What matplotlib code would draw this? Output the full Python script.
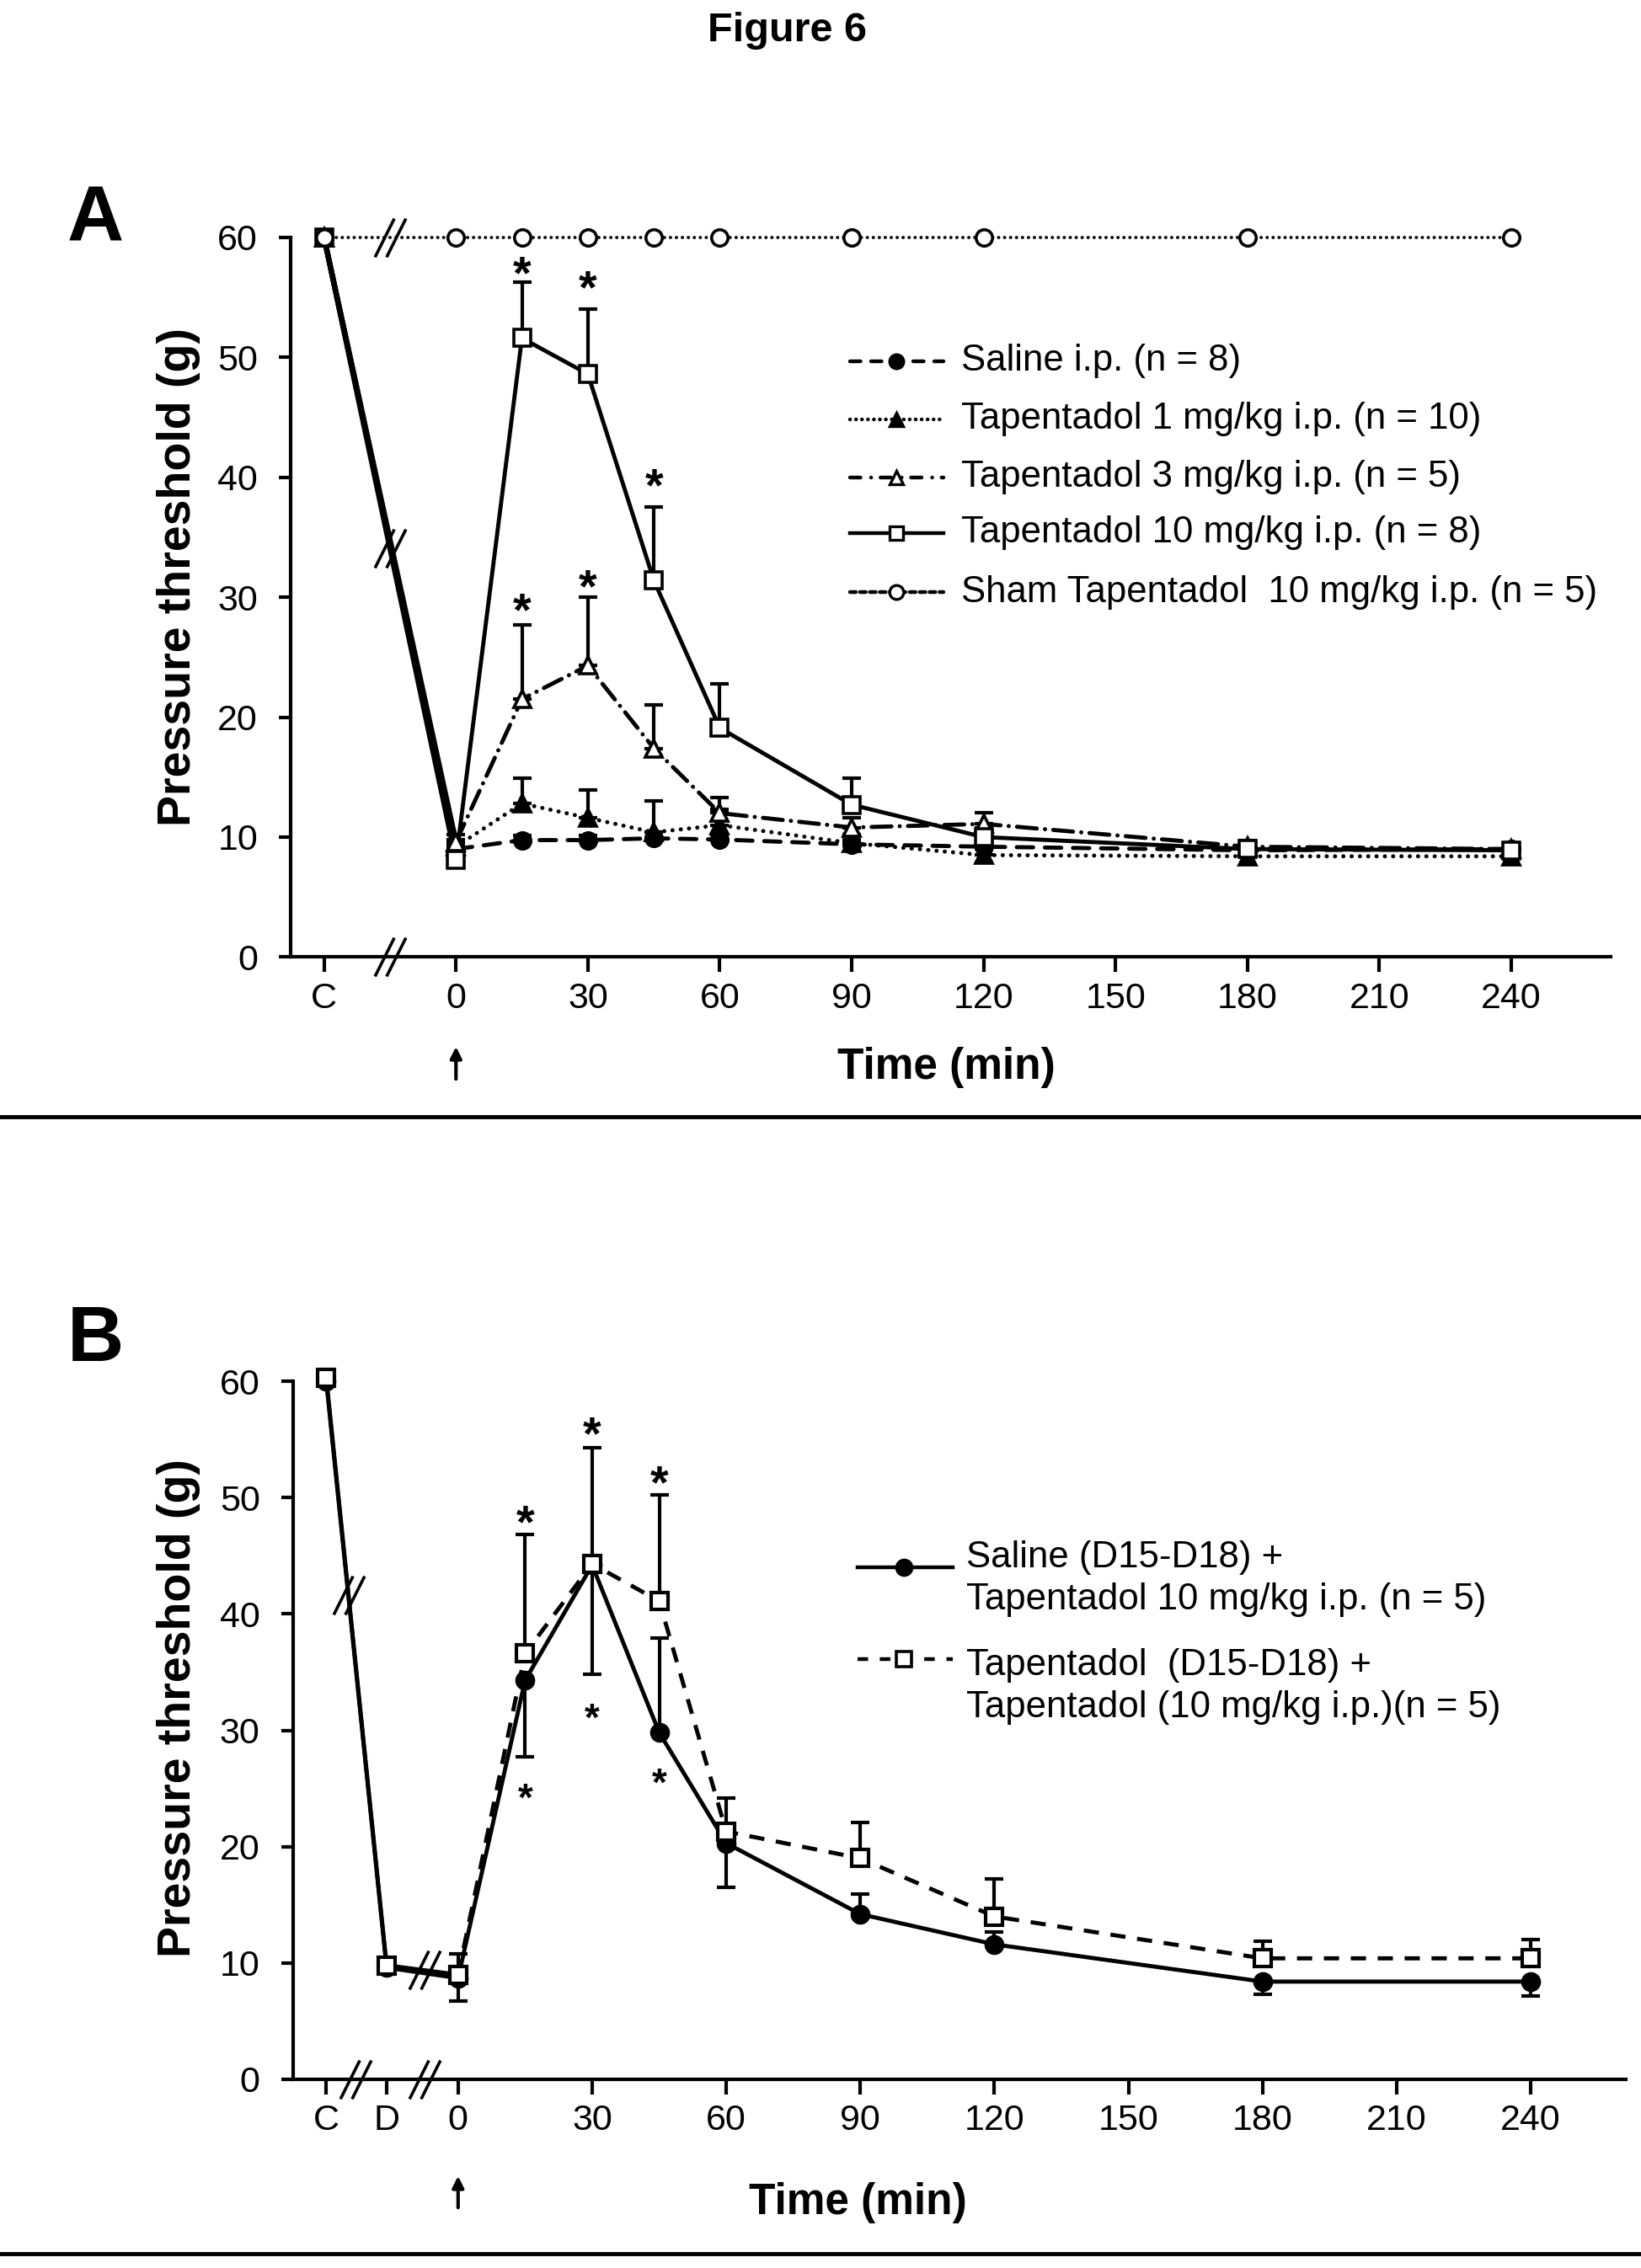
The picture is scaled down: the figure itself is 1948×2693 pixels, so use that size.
import matplotlib
matplotlib.use('Agg')
import matplotlib.pyplot as plt
from matplotlib.path import Path
from matplotlib.lines import Line2D
import numpy as np

plt.rcParams['font.family'] = ['Liberation Sans', 'DejaVu Sans']
plt.rcParams['lines.scale_dashes'] = False

W, H, DPI = 1949, 2693, 100

# ---------------- data : panel A ----------------
a_ticks = [-30, 0, 30, 60, 90, 120, 150, 180, 210, 240]
a_ticklabels = ['C', '0', '30', '60', '90', '120', '150', '180', '210', '240']
a_time = [-30, 0, 15, 30, 45, 60, 90, 120, 180, 240]          # -30 = "C"
a_saline = [60, 9.0, 9.75, 9.75, 9.9, 9.8, 9.4, 9.2, 8.9, 9.0]
a_saline_err = [0, 0.4, 0.4, 0.4, 0.5, 0.4, 0.4, 0.4, 0.4, 0.4]
a_tap1 = [60, 9.2, 12.8, 11.6, 10.4, 11.0, 9.5, 8.5, 8.4, 8.4]
a_tap1_err = [0, 0.6, 2.1, 2.3, 2.6, 1.3, 0.7, 0.5, 0.5, 0.5]
a_tap3 = [60, 9.6, 21.5, 24.3, 17.4, 12.0, 10.8, 11.1, 9.2, 9.0]
a_tap3_err = [0, 0.6, 6.2, 5.7, 3.6, 1.3, 0.8, 0.9, 0.5, 0.5]
a_tap10 = [60, 8.1, 51.6, 48.6, 31.4, 19.1, 12.7, 10.0, 9.0, 8.9]
a_tap10_err = [0, 0.5, 4.7, 5.4, 6.1, 3.7, 2.2, 0.8, 0.6, 0.6]
a_sham = [60, 60, 60, 60, 60, 60, 60, 60, 60, 60]
a_star_x = [15, 30, 45, 15, 30]
a_star_y = [58.1, 56.9, 40.4, 30.0, 32.0]
a_labels = ['Saline i.p. (n = 8)',
            'Tapentadol 1 mg/kg i.p. (n = 10)',
            'Tapentadol 3 mg/kg i.p. (n = 5)',
            'Tapentadol 10 mg/kg i.p. (n = 8)',
            'Sham Tapentadol  10 mg/kg i.p. (n = 5)']
a_break_x = -15

# ---------------- data : panel B ----------------
b_ticks = [-29.5, -16, 0, 30, 60, 90, 120, 150, 180, 210, 240]
b_ticklabels = ['C', 'D', '0', '30', '60', '90', '120', '150', '180', '210', '240']
b_time = [-29.5, -16, 0, 15, 30, 45, 60, 90, 120, 180, 240]    # -29.5 = "C", -16 = "D"
b_saline = [60.0, 9.6, 8.7, 34.3, 44.2, 29.8, 20.3, 14.2, 11.6, 8.4, 8.4]
b_saline_lo = [0, 0.4, 2.0, 6.6, 9.4, 0, 3.8, 0, 0, 1.1, 1.2]
b_saline_hi = [0, 0, 0, 0, 0, 8.1, 0, 1.7, 1.1, 0, 0]
b_tap = [60.3, 9.8, 9.0, 36.6, 44.3, 41.1, 21.3, 19.0, 14.0, 10.4, 10.4]
b_tap_hi = [0, 0.5, 1.8, 10.2, 10.0, 9.1, 2.9, 3.1, 3.2, 1.5, 1.6]
b_star_up_x = [15, 30, 45]
b_star_up_y = [49.0, 56.6, 52.4]
b_star_lo_x = [15, 30, 45]
b_star_lo_y = [25.1, 32.0, 26.4]
b_labels = [['Saline (D15-D18) +', 'Tapentadol 10 mg/kg i.p. (n = 5)'],
            ['Tapentadol  (D15-D18) +', 'Tapentadol (10 mg/kg i.p.)(n = 5)']]
b_line_break_x = [-24.5, -7.5]
b_axis_break_x = [-23, -7.5]

# ---------------- helpers ----------------
fig = plt.figure(figsize=(W / DPI, H / DPI), dpi=DPI)
fig.patch.set_facecolor('white')


def fx(px):
    return px / W


def fy(py):
    return 1 - py / H


BREAK = Path([(-0.8, -1), (0.2, 1), (-0.2, -1), (0.8, 1)],
             [Path.MOVETO, Path.LINETO, Path.MOVETO, Path.LINETO])

LW = 3.5
MS = 14
MEW = 2.6
styles = {
    'saline': dict(ls=(0, (14, 10)), marker='o', mfc='black'),
    'tap1': dict(ls=(0, (0.1, 7)), marker='^', mfc='black'),
    'tap3': dict(ls=(0, (17, 7, 0.1, 7)), marker='^', mfc='white'),
    'tap10': dict(ls='-', marker='s', mfc='white'),
    'sham': dict(ls=(0, (0.1, 5)), marker='o', mfc='white'),
}


def style_axes(ax, xl, ticks, labels):
    ax.set_xlim(*xl)
    ax.set_ylim(0, 60)
    for s in ('top', 'right'):
        ax.spines[s].set_visible(False)
    for s in ('left', 'bottom'):
        ax.spines[s].set_linewidth(3)
    ax.set_yticks([0, 10, 20, 30, 40, 50, 60])
    ax.set_xticks(ticks)
    ax.set_xticklabels(labels)
    ax.tick_params(axis='y', length=10, width=3, pad=18, labelsize=31)
    ax.tick_params(axis='x', length=13, width=3, pad=8, labelsize=31)
    ax.patch.set_alpha(0)


def errbars(ax, x, y, lo, hi, lw=3):
    idx = [i for i in range(len(x)) if (lo[i] > 0 or hi[i] > 0)]
    xs = [x[i] for i in idx]
    ys = [y[i] for i in idx]
    el = [lo[i] for i in idx]
    eh = [hi[i] for i in idx]
    ax.errorbar(xs, ys, yerr=[el, eh], fmt='none', ecolor='black',
                elinewidth=lw, capsize=8, capthick=lw, zorder=3, clip_on=False)


def stars(ax, xs, ys, fs):
    for x, y in zip(xs, ys):
        ax.annotate('*', xy=(x, y), xytext=(0, -0.6 * fs), textcoords='offset points',
                    ha='center', va='baseline', fontsize=fs, fontweight='bold',
                    annotation_clip=False)


# ================= PANEL A =================
axA = fig.add_axes([fx(345), fy(1136.4), fx(1912) - fx(345), fy(281.8) - fy(1136.4)])
style_axes(axA, (-37.6, 262.6), a_ticks, a_ticklabels)

series_a = [('saline', a_saline, a_saline_err),
            ('tap1', a_tap1, a_tap1_err),
            ('tap3', a_tap3, a_tap3_err),
            ('tap10', a_tap10, a_tap10_err)]
# control -> time 0 descent (solid, overlapping)
for key, ys, err in series_a:
    axA.plot(a_time[:2], ys[:2], color='black', lw=4.5, solid_capstyle='round',
             zorder=2, clip_on=False)
# sham
axA.plot(a_time, a_sham, color='black', lw=2.8, ls=styles['sham']['ls'],
         dash_capstyle='round', zorder=2, clip_on=False)
for key, ys, err in series_a:
    st = styles[key]
    axA.plot(a_time[1:], ys[1:], color='black', lw=LW, ls=st['ls'],
             dash_capstyle='round', zorder=2)
    errbars(axA, a_time, ys, [0] * len(ys), err)
for key, ys, err in series_a + [('sham', a_sham, None)]:
    st = styles[key]
    axA.plot(a_time, ys, ls='none', marker=st['marker'], ms=MS, mfc=st['mfc'],
             mec='black', mew=MEW, zorder=4, clip_on=False)
# axis-break marks (on sham line, on descending line, on x axis)
y_mid = float(np.interp(a_break_x, a_time[:2], a_tap10[:2]))
axA.plot([a_break_x] * 3, [a_sham[0], y_mid, 0], ls='none', marker=BREAK, ms=33,
         mec='black', mew=2.6, mfc='none', zorder=5, clip_on=False)
stars(axA, a_star_x, a_star_y, 40)

# legend A (manual)
rows_a = [428.8, 498.0, 566.6, 632.7, 703.0]
leg_ls = {'saline': (0, (9, 9)), 'tap1': (0, (0.1, 5)), 'tap3': (0, (9, 9, 0.1, 8)),
          'tap10': '-', 'sham': (0, (5, 3.5))}
for key, lab, ry in zip(['saline', 'tap1', 'tap3', 'tap10', 'sham'], a_labels, rows_a):
    st = styles[key]
    fig.add_artist(Line2D([fx(1009), fx(1120)], [fy(ry), fy(ry)], transform=fig.transFigure,
                          color='black', lw=3.2, ls=leg_ls[key], dash_capstyle='round'))
    fig.add_artist(Line2D([fx(1064.5)], [fy(ry)], transform=fig.transFigure, ls='none',
                          marker=st['marker'], ms=12, mfc=st['mfc'], mec='black', mew=2.4))
    fig.text(fx(1140.6), fy(ry), lab, fontsize=31.5, ha='left', va='center')

# ================= PANEL B =================
axB = fig.add_axes([fx(347.5), fy(2469), fx(1930) - fx(347.5), fy(1640) - fy(2469)])
style_axes(axB, (-37.0, 261.3), b_ticks, b_ticklabels)

axB.plot(b_time, b_saline, color='black', lw=LW, ls='-', zorder=2, clip_on=False)
axB.plot(b_time[:3], b_tap[:3], color='black', lw=LW, ls='-', zorder=2, clip_on=False)
axB.plot(b_time[2:], b_tap[2:], color='black', lw=LW, ls=(0, (13, 10)), zorder=2)
errbars(axB, b_time, b_saline, b_saline_lo, b_saline_hi)
errbars(axB, b_time, b_tap, [0] * len(b_tap), b_tap_hi)
axB.plot(b_time, b_saline, ls='none', marker='o', ms=16, mfc='black', mec='black',
         zorder=4, clip_on=False)
axB.plot(b_time, b_tap, ls='none', marker='s', ms=15, mfc='white', mec='black',
         mew=3, zorder=5, clip_on=False)
b_break_y = [float(np.interp(bx, b_time, b_tap)) for bx in b_line_break_x]
axB.plot(b_line_break_x + b_axis_break_x, b_break_y + [0, 0], ls='none', marker=BREAK, ms=33,
         mec='black', mew=2.6, mfc='none', zorder=6, clip_on=False)
stars(axB, b_star_up_x, b_star_up_y, 40)
stars(axB, b_star_lo_x, b_star_lo_y, 33)

# legend B (manual)
b_handle_y = [1861, 1969.5]
b_text_y = [[1849, 1900], [1977, 2028]]
b_styles = [dict(ls='-', marker='o', mfc='black'), dict(ls=(0, (9, 10)), marker='s', mfc='white')]
for st, hy, tys, labs in zip(b_styles, b_handle_y, b_text_y, b_labels):
    fig.add_artist(Line2D([fx(1018), fx(1131.5)], [fy(hy), fy(hy)], transform=fig.transFigure,
                          color='black', lw=3.2, ls=st['ls']))
    fig.add_artist(Line2D([fx(1073)], [fy(hy)], transform=fig.transFigure, ls='none',
                          marker=st['marker'], ms=13, mfc=st['mfc'], mec='black', mew=2.6))
    for ty, lab in zip(tys, labs):
        fig.text(fx(1147), fy(ty), lab, fontsize=31.5, ha='left', va='center')

# ================= texts =================
fig.text(fx(935), fy(36.5), 'Figure 6', fontsize=35, fontweight='bold', ha='center', va='center')
fig.text(fx(113), fy(261), 'A', fontsize=67, fontweight='bold', ha='center', va='center')
fig.text(fx(113), fy(1592), 'B', fontsize=67, fontweight='bold', ha='center', va='center')
fig.text(fx(212), fy(685), 'Pressure threshold (g)', fontsize=40, fontweight='bold',
         rotation=90, ha='center', va='center')
fig.text(fx(212), fy(2028), 'Pressure threshold (g)', fontsize=40, fontweight='bold',
         rotation=90, ha='center', va='center')
fig.text(fx(1123), fy(1267), 'Time (min)', fontsize=37, fontweight='bold', ha='center', va='center')
fig.text(fx(1018), fy(2616), 'Time (min)', fontsize=37, fontweight='bold', ha='center', va='center')

# arrows under time 0
for ax, y0, y1 in [(axA, 1284, 1240), (axB, 2624, 2581)]:
    trans = matplotlib.transforms.blended_transform_factory(ax.transData, fig.transFigure)
    ax.annotate('', xy=(0, fy(y1)), xytext=(0, fy(y0)), xycoords=trans, textcoords=trans,
                arrowprops=dict(arrowstyle='-|>', lw=3, color='black', mutation_scale=20),
                annotation_clip=False)

# separator lines
for yy in (1326, 2676):
    fig.add_artist(Line2D([0, 1], [fy(yy), fy(yy)], transform=fig.transFigure,
                          color='black', lw=3.5))

fig.savefig('out.png', dpi=DPI, facecolor='white')
